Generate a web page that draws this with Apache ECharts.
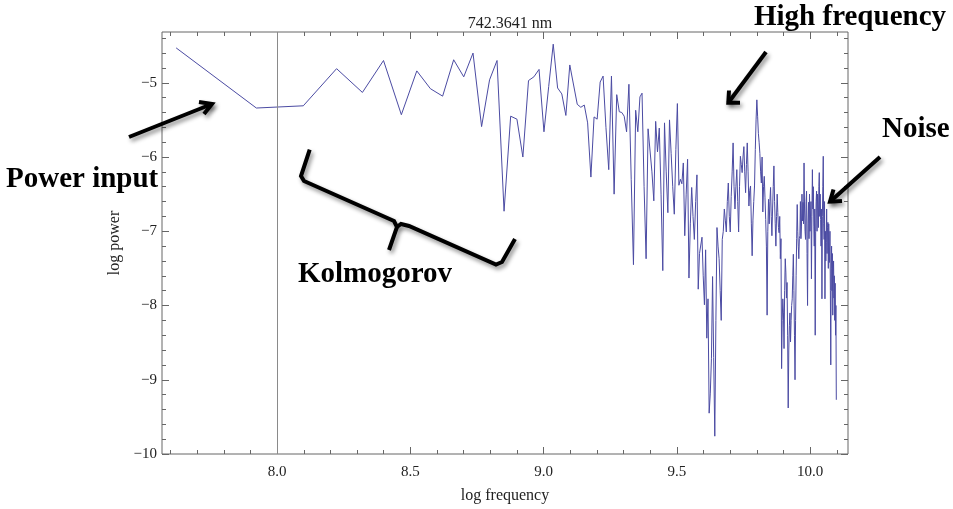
<!DOCTYPE html>
<html>
<head>
<meta charset="utf-8">
<script src="https://cdn.jsdelivr.net/npm/echarts@6/dist/echarts.min.js"></script>
<style>
html,body{margin:0;padding:0;background:#fff;}
#chart{width:953px;height:509px;}
</style>
</head>
<body>
<div id="chart"></div>
<script>
// ---- chart data ----
const chartTitle = '742.3641 nm';
const xAxisName = 'log frequency';
const yAxisName = 'log power';
// log10 of the frequency of bin 1 (spectrum bins are k * f0, k = 1..300)
const fundamentalLogFreq = 7.621;
// log power of each spectral bin k = 1..300
const logPower = [
  -4.53,-5.34,-5.31,-4.81,-5.13,-4.70,-5.43,-4.84,-5.08,-5.18,
  -4.69,-4.92,-4.60,-5.59,-4.96,-4.70,-6.73,-5.45,-5.49,-6.00,
  -4.97,-4.92,-4.82,-5.66,-5.05,-4.48,-5.07,-5.15,-5.44,-4.76,
  -5.03,-5.29,-5.33,-5.30,-5.54,-6.27,-5.46,-5.49,-4.99,-4.91,
  -5.60,-6.17,-4.91,-6.50,-5.16,-5.39,-5.40,-5.45,-5.66,-5.02,
  -6.30,-7.45,-5.37,-5.66,-5.19,-5.14,-6.40,-7.37,-5.62,-5.62,
  -6.20,-6.59,-5.52,-5.93,-5.61,-6.50,-7.53,-5.54,-6.20,-6.75,
  -5.50,-5.95,-6.40,-6.77,-5.90,-5.28,-6.38,-6.30,-6.36,-6.08,
  -7.06,-6.50,-6.03,-7.63,-6.90,-6.41,-6.80,-7.11,-6.60,-6.24,
  -7.78,-7.30,-7.28,-7.08,-7.60,-7.99,-7.25,-8.44,-7.91,-9.45,
  -9.18,-8.71,-7.61,-8.70,-9.76,-8.20,-6.95,-7.20,-7.37,-7.80,
  -8.20,-7.11,-7.00,-6.70,-6.85,-7.01,-6.60,-6.35,-6.80,-7.01,
  -6.53,-6.20,-5.81,-6.40,-6.70,-6.40,-6.17,-6.60,-7.01,-6.40,
  -5.99,-6.10,-6.21,-6.00,-5.86,-6.20,-6.48,-6.10,-5.81,-6.20,
  -6.66,-6.45,-6.39,-6.90,-7.33,-6.85,-6.60,-6.39,-5.90,-5.50,
  -5.23,-5.45,-5.68,-5.80,-5.95,-6.20,-6.35,-6.00,-6.74,-6.40,
  -6.26,-6.55,-6.84,-7.20,-8.13,-7.00,-6.57,-6.90,-6.60,-6.41,
  -6.80,-7.06,-6.70,-6.40,-6.12,-6.60,-6.90,-7.20,-6.80,-6.50,
  -6.75,-6.95,-7.02,-6.80,-7.37,-7.10,-8.85,-8.20,-7.91,-8.10,
  -8.58,-7.80,-7.37,-7.55,-7.90,-7.69,-8.40,-9.38,-8.60,-8.27,
  -8.10,-8.49,-8.20,-8.00,-7.91,-7.60,-7.31,-7.80,-8.40,-9.00,
  -8.20,-7.60,-7.10,-6.64,-7.00,-7.20,-7.37,-7.10,-7.06,-6.60,
  -7.10,-6.93,-6.50,-6.86,-6.61,-6.90,-6.08,-6.70,-7.00,-7.11,
  -6.60,-6.46,-7.30,-8.00,-6.90,-6.61,-7.10,-6.50,-7.00,-7.02,
  -6.60,-7.64,-6.80,-6.17,-6.70,-6.40,-6.93,-7.20,-6.70,-8.40,
  -7.00,-6.60,-6.46,-7.00,-6.50,-6.66,-6.95,-6.40,-6.21,-6.80,
  -6.50,-6.84,-7.20,-6.70,-7.91,-6.80,-6.40,-5.99,-6.90,-7.11,
  -6.60,-7.91,-7.00,-7.40,-7.15,-6.70,-7.30,-6.95,-6.88,-7.50,
  -6.90,-7.20,-7.42,-7.00,-7.80,-8.80,-7.50,-7.20,-7.80,-7.30,
  -8.13,-7.60,-7.40,-7.90,-7.60,-8.20,-7.70,-8.40,-8.00,-9.27
];
// axis ranges and tick labels
const xRange = [7.568, 10.142];
const yRange = [-10, -4.316];
const xMajorTicks = [8.0, 8.5, 9.0, 9.5, 10.0];
const xMinorTicks = [7.6,7.7,7.8,7.9,8.1,8.2,8.3,8.4,8.6,8.7,8.8,8.9,9.1,9.2,9.3,9.4,9.6,9.7,9.8,9.9,10.1];
const yMajorTicks = [-10, -9, -8, -7, -6, -5];
const yMinorTicks = [-9.8,-9.6,-9.4,-9.2,-8.8,-8.6,-8.4,-8.2,-7.8,-7.6,-7.4,-7.2,-6.8,-6.6,-6.4,-6.2,-5.8,-5.6,-5.4,-5.2,-4.8,-4.6,-4.4];
const axisOriginX = 8.0;
// annotation texts
const notes = ['High frequency', 'Noise', 'Power input', 'Kolmogorov'];

// ---- build ----
const seriesData = logPower.map((v, i) => [i + 1, v]);   // [bin number, log power]
const SERIF = '"Liberation Serif", "Times New Roman", serif';
const frameColor = '#666';
const lbl = {fontFamily: SERIF, fontSize: 15, color: '#222'};
const minusFmt = v => (v < 0 ? '\u2212' + Math.abs(v) : String(v));

function xTickAxis(pos, values, len, labels) {
  return {
    type: 'value', position: pos, min: xRange[0], max: xRange[1],
    axisLine: {show: false}, splitLine: {show: false},
    axisTick: {show: true, inside: true, length: len, customValues: values, lineStyle: {color: frameColor, width: 1}},
    axisLabel: labels ? Object.assign({show: true, customValues: values, margin: 11, formatter: v => v.toFixed(1)}, lbl) : {show: false}
  };
}
function yTickAxis(pos, values, len, labels) {
  return {
    type: 'value', position: pos, min: yRange[0], max: yRange[1],
    axisLine: {show: false}, splitLine: {show: false},
    axisTick: {show: true, inside: true, length: len, customValues: values, lineStyle: {color: frameColor, width: 1}},
    axisLabel: labels ? Object.assign({show: true, customValues: values, margin: 5, formatter: minusFmt}, lbl) : {show: false}
  };
}

const xAxes = [
  { // data axis: bins on a log10 scale, range matching the log-frequency frame
    type: 'log', logBase: 10, show: false,
    min: Math.pow(10, xRange[0] - fundamentalLogFreq),
    max: Math.pow(10, xRange[1] - fundamentalLogFreq)
  },
  Object.assign(xTickAxis('bottom', xMajorTicks, 7, true), {
    name: xAxisName, nameLocation: 'middle', nameGap: 34,
    nameTextStyle: {fontFamily: SERIF, fontSize: 16, color: '#222'}
  }),
  xTickAxis('bottom', xMinorTicks, 4, false),
  xTickAxis('top', xMajorTicks, 7, false),
  xTickAxis('top', xMinorTicks, 4, false)
];
const yAxes = [
  Object.assign(yTickAxis('left', yMajorTicks, 7, true), {
    name: yAxisName, nameLocation: 'middle', nameGap: 36, nameRotate: 90,
    nameTextStyle: {fontFamily: SERIF, fontSize: 16, color: '#222'}
  }),
  yTickAxis('left', yMinorTicks, 4, false),
  yTickAxis('right', yMajorTicks, 7, false),
  yTickAxis('right', yMinorTicks, 4, false)
];

const shadow = {shadowBlur: 4, shadowColor: 'rgba(0,0,0,0.45)', shadowOffsetX: 2, shadowOffsetY: 3};
function stroke(points) {
  return {type: 'polyline', silent: true, z: 100,
    shape: {points: points},
    style: Object.assign({stroke: '#000', lineWidth: 4, fill: null, lineJoin: 'miter', lineCap: 'butt'}, shadow)};
}
function note(text, x, y) {
  return {type: 'text', silent: true, z: 100, x: x, y: y,
    style: {text: text, fill: '#000', font: 'bold 29px ' + SERIF, verticalAlign: 'middle', align: 'left'}};
}

const chart = echarts.init(document.getElementById('chart'), null, {renderer: 'canvas'});
chart.setOption({
  animation: false,
  backgroundColor: '#fff',
  title: {
    text: chartTitle, left: 505, top: 11, textAlign: 'center',
    textStyle: {fontFamily: SERIF, fontSize: 16, fontWeight: 'normal', color: '#222'}
  },
  grid: {left: 162, right: 105, top: 32, bottom: 51, show: true, borderColor: frameColor, borderWidth: 1, backgroundColor: 'transparent'},
  xAxis: xAxes,
  yAxis: yAxes,
  series: [
    {
      type: 'line', xAxisIndex: 0, yAxisIndex: 0, data: seriesData,
      showSymbol: false, symbol: 'none',
      lineStyle: {color: '#4b4ba3', width: 1}, z: 3
    },
    {
      type: 'line', xAxisIndex: 1, yAxisIndex: 0, data: [], z: 2,
      markLine: {
        silent: true, symbol: 'none', animation: false,
        label: {show: false},
        lineStyle: {color: '#8a8a8a', width: 1, type: 'solid'},
        data: [{xAxis: axisOriginX}]
      }
    }
  ],
  graphic: [
    note(notes[0], 754, 18),
    note(notes[1], 882, 130),
    note(notes[2], 6, 180),
    note(notes[3], 298, 275),
    // arrows
    stroke([[129, 137], [212, 104]]),
    stroke([[199, 102], [212, 104], [204, 114]]),
    stroke([[766, 52], [728.3, 102.7]]),
    stroke([[729, 90.5], [728.3, 102.7], [740, 102.7]]),
    stroke([[880, 157], [830, 201.7]]),
    stroke([[833.5, 189.5], [830, 201.7], [842, 201]]),
    // brace
    stroke([[309.7, 149.6], [301, 176], [304, 181], [394, 221], [397, 227], [389, 250]]),
    stroke([[397, 227], [401, 224], [409, 226], [496, 264.5], [502, 262], [515, 239]])
  ]
});
</script>
</body>
</html>
